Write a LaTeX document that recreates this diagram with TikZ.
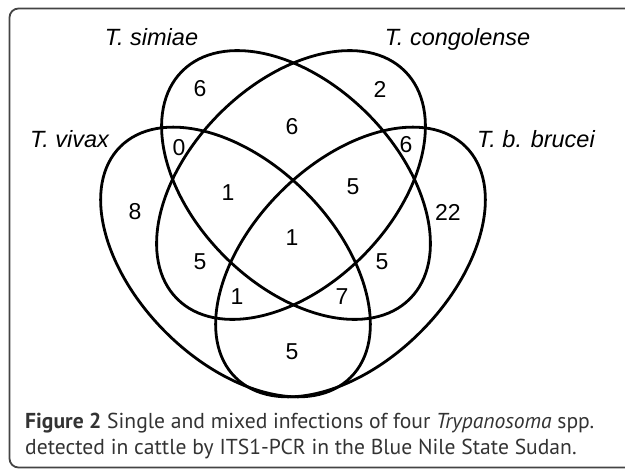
\documentclass[tikz,border=0pt]{standalone}
\usepackage{fontspec}
\setmainfont{Liberation Sans}
\newfontfamily\capfont{PT Sans}
\definecolor{captxt}{HTML}{333333}
\definecolor{framecol}{HTML}{444444}
\tikzset{
  venn/.style={line width=2.8pt, black},
  num/.style={inner sep=0pt, font=\fontsize{23}{27}\selectfont},
  lab/.style={inner sep=0pt, anchor=base, font=\fontsize{23.5}{28}\selectfont\itshape},
  captext/.style={inner sep=0pt, anchor=base west, text=captxt, font=\capfont\fontsize{21.6}{25}\selectfont},
  frame/.style={line width=1.8pt, framecol, rounded corners=9pt}
}
\begin{document}
\begin{tikzpicture}[x=1pt,y=-1pt]
\useasboundingbox (0,0) rectangle (625,469);
\clip (0,0) rectangle (625,469);
\draw[frame] (9.5,8.5) rectangle (660,467.5);
% ellipses
\draw[venn, rotate around={-45:(235.5,262)}] (235.5,262) ellipse [x radius=163, y radius=99];
\draw[venn, rotate around={45:(350.5,262)}] (350.5,262) ellipse [x radius=163, y radius=99];
\draw[venn, rotate around={-45:(296,185)}] (296,185) ellipse [x radius=161, y radius=101];
\draw[venn, rotate around={45:(291,185)}] (291,185) ellipse [x radius=161, y radius=101];
% labels
\node[lab] (lsim) at (151.5,45) {T. simiae};
\node[lab] (lcon) at (457.5,45) {T. congolense};
\node[lab] (lviv) at (69.5,147) {T. vivax};
\node[lab] (lbru) at (536,147) {T. b. brucei};
% numbers
\node[num] (s) at (200,89) {6};
\node[num] (c) at (380,89) {2};
\node[num] (sc) at (292,127) {6};
\node[num] (vs) at (179,148) {0};
\node[num] (cb) at (406,145) {6};
\node[num] (v) at (135,212) {8};
\node[num] (vsc) at (228,193) {1};
\node[num] (scb) at (353,187) {5};
\node[num] (b) at (448,212) {22};
\node[num] (all) at (292,238) {1};
\node[num] (vc) at (200,262) {5};
\node[num] (sb) at (382,262) {5};
\node[num] (vcb) at (237,297) {1};
\node[num] (vsb) at (342,297) {7};
\node[num] (vb) at (292,352) {5};
% caption
\node[captext] (cap1) at (25,428) {\textbf{Figure 2} Single and mixed infections of four \textit{Trypanosoma} spp.};
\node[captext] (cap2) at (25,454) {detected in cattle by ITS1-PCR in the Blue Nile State Sudan.};
\end{tikzpicture}
\end{document}
